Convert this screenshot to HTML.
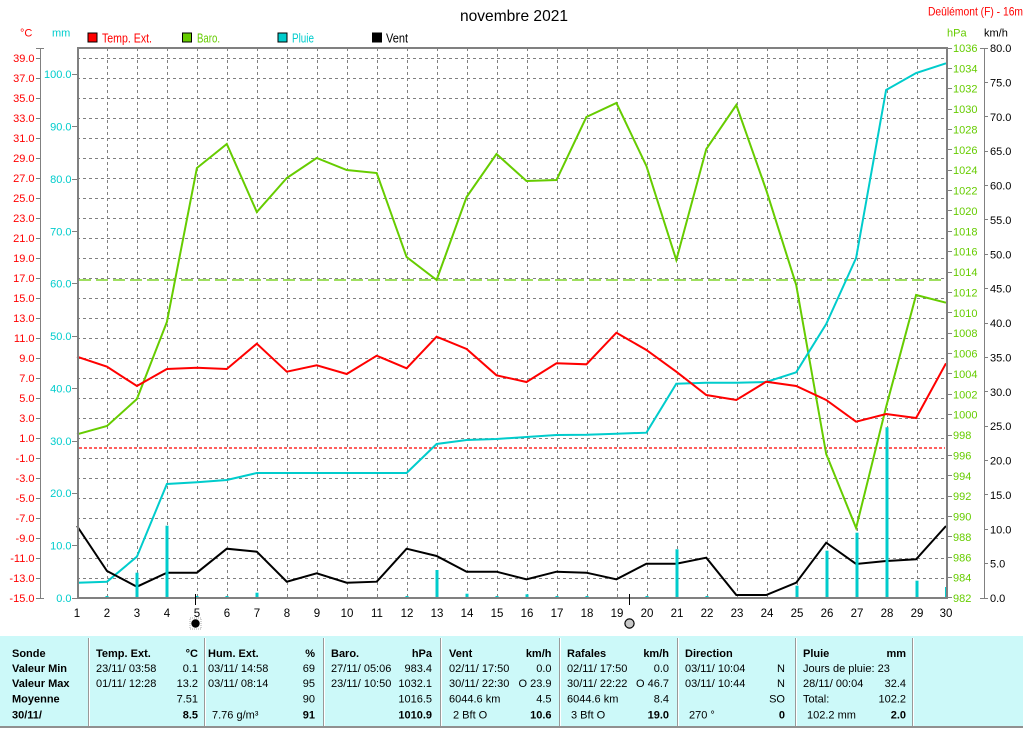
<!DOCTYPE html>
<html><head><meta charset="utf-8"><style>
html,body{margin:0;padding:0;background:#fff;}
svg{display:block;}
text{font-family:"Liberation Sans",Arial,sans-serif;}
</style></head><body>
<svg width="1026" height="729" viewBox="0 0 1026 729" xmlns="http://www.w3.org/2000/svg">
<rect width="1026" height="729" fill="#fff"/>
<!-- title -->
<text x="460" y="21" font-size="16" textLength="108" lengthAdjust="spacingAndGlyphs" fill="#000">novembre 2021</text>
<text x="928" y="15.5" font-size="12" textLength="95" lengthAdjust="spacingAndGlyphs" fill="#ff0000">Deûlémont (F) - 16m</text>
<!-- unit labels -->
<text x="20" y="36.5" font-size="11" fill="#ff0000">°C</text>
<text x="52" y="36.5" font-size="11" fill="#00cccc">mm</text>
<text x="947" y="36.5" font-size="11" fill="#66cc00">hPa</text>
<text x="984" y="36.5" font-size="11" fill="#000">km/h</text>
<!-- legend -->
<rect x="88" y="33" width="9" height="9" fill="#ff0000" stroke="#000" stroke-width="1"/>
<text x="102" y="42.5" font-size="12.5" textLength="50" lengthAdjust="spacingAndGlyphs" fill="#ff0000">Temp. Ext.</text>
<rect x="182.5" y="33" width="9" height="9" fill="#66cc00" stroke="#000" stroke-width="1"/>
<text x="197" y="42.5" font-size="12.5" textLength="23" lengthAdjust="spacingAndGlyphs" fill="#66cc00">Baro.</text>
<rect x="278" y="33" width="9" height="9" fill="#00cccc" stroke="#000" stroke-width="1"/>
<text x="292" y="42.5" font-size="12.5" textLength="22" lengthAdjust="spacingAndGlyphs" fill="#00cccc">Pluie</text>
<rect x="372.5" y="33" width="9" height="9" fill="#000" stroke="#000" stroke-width="1"/>
<text x="386" y="42.5" font-size="12.5" textLength="22" lengthAdjust="spacingAndGlyphs" fill="#000">Vent</text>

<!-- grid -->
<g stroke="#808080" stroke-width="1" stroke-dasharray="3 3" shape-rendering="crispEdges">
<path d="M77 58.5H946M77 78.5H946M77 98.5H946M77 118.5H946M77 138.5H946M77 158.5H946M77 178.5H946M77 198.5H946M77 218.5H946M77 238.5H946M77 258.5H946M77 278.5H946M77 298.5H946M77 318.5H946M77 338.5H946M77 358.5H946M77 378.5H946M77 398.5H946M77 418.5H946M77 438.5H946M77 458.5H946M77 478.5H946M77 498.5H946M77 518.5H946M77 538.5H946M77 558.5H946M77 578.5H946"/>
<path d="M107.5 48V598M137.5 48V598M167.5 48V598M197.5 48V598M227.5 48V598M257.5 48V598M287.5 48V598M317.5 48V598M347.5 48V598M377.5 48V598M407.5 48V598M437.5 48V598M467.5 48V598M497.5 48V598M527.5 48V598M557.5 48V598M587.5 48V598M617.5 48V598M647.5 48V598M677.5 48V598M707.5 48V598M737.5 48V598M767.5 48V598M797.5 48V598M827.5 48V598M857.5 48V598M887.5 48V598M917.5 48V598"/>
</g>
<!-- reference lines -->
<line x1="79" y1="448" x2="945" y2="448" stroke="#ff0000" stroke-width="1.2" stroke-dasharray="3 2"/>
<line x1="79" y1="280" x2="945" y2="280" stroke="#66cc00" stroke-width="1.2" stroke-dasharray="12 5"/>

<!-- series -->
<polyline fill="none" stroke="#66cc00" stroke-width="2" points="77,434.3 107,426 136.9,399 166.9,322 196.9,168 226.8,144 256.8,212 286.8,178 316.7,158 346.7,170 376.7,173 406.6,257 436.6,280 466.6,197 496.5,154 526.5,181 556.5,180 586.4,117 616.4,103 646.4,166 676.3,260 706.3,149 736.3,105 766.2,190 796.2,285 826.2,454 856.1,528 886.1,407 916.1,295 946,302.7"/>
<polyline fill="none" stroke="#00cccc" stroke-width="2" points="78,598 78,582.7 107,581.7 136.9,556.7 166.9,484 196.9,482.3 226.8,480 256.8,473 286.8,473 316.7,473 346.7,473 376.7,473 406.6,473 436.6,444 466.6,440 496.5,439 526.5,437 556.5,435 586.4,434.7 616.4,433.7 646.4,432.7 676.3,383.7 706.3,382.7 736.3,382.7 766.2,382 796.2,372.3 826.2,324 856.1,258 886.1,90 916.1,73 946,63.3"/>
<polyline fill="none" stroke="#ff0000" stroke-width="2" points="77,356.7 107,366.7 136.9,386 166.9,369 196.9,367.7 226.8,369 256.8,343.7 286.8,371.7 316.7,365.3 346.7,374 376.7,355.7 406.6,368.3 436.6,336.7 466.6,349 496.5,375.3 526.5,382 556.5,363.3 586.4,364.3 616.4,332.7 646.4,350 676.3,371.7 706.3,395 736.3,400 766.2,381.7 796.2,386 826.2,400 856.1,421.7 886.1,414 916.1,418 946,363.3"/>
<polyline fill="none" stroke="#000" stroke-width="2" points="77,526 107,571 136.9,586.7 166.9,572.7 196.9,572.7 226.8,548.7 256.8,551.7 286.8,581.7 316.7,573.3 346.7,582.7 376.7,581.7 406.6,548.7 436.6,556 466.6,571.7 496.5,571.7 526.5,579.3 556.5,571.7 586.4,572.7 616.4,579.3 646.4,563.7 676.3,563.7 706.3,557.7 736.3,595 766.2,595 796.2,582.7 826.2,542.7 856.1,564 886.1,561 916.1,559.3 946,526"/>
<!-- rain bars -->
<g fill="#00cccc">
<rect x="105.5" y="596" width="3" height="2"/>
<rect x="135.5" y="572.7" width="3" height="25.3"/>
<rect x="165.5" y="525.7" width="3" height="72.3"/>
<rect x="195.5" y="596" width="3" height="2"/>
<rect x="225.5" y="596" width="3" height="2"/>
<rect x="255.5" y="592.7" width="3" height="5.3"/>
<rect x="405.5" y="596" width="3" height="2"/>
<rect x="435.5" y="570" width="3" height="28"/>
<rect x="465.5" y="593.7" width="3" height="4.3"/>
<rect x="495.5" y="596" width="3" height="2"/>
<rect x="525.5" y="594.3" width="3" height="3.7"/>
<rect x="555.5" y="596" width="3" height="2"/>
<rect x="585.5" y="596" width="3" height="2"/>
<rect x="645.5" y="596" width="3" height="2"/>
<rect x="675.5" y="549.3" width="3" height="48.7"/>
<rect x="705.5" y="596" width="3" height="2"/>
<rect x="795.5" y="585.7" width="3" height="12.3"/>
<rect x="825.5" y="550.7" width="3" height="47.3"/>
<rect x="855.5" y="532.7" width="3" height="65.3"/>
<rect x="885.5" y="427.3" width="3" height="170.7"/>
<rect x="915.5" y="580.7" width="3" height="17.3"/>
<rect x="945" y="587" width="2" height="11"/>
</g>

<!-- plot border -->
<rect x="78" y="48" width="869" height="550" fill="none" stroke="#808080" stroke-width="2"/>

<!-- left temp axis -->
<g stroke="#808080" stroke-width="1" shape-rendering="crispEdges">
<path d="M40.5 48V598M36 48.5H44M36 598.5H44"/>
<path d="M36 58.5H40M36 78.5H40M36 98.5H40M36 118.5H40M36 138.5H40M36 158.5H40M36 178.5H40M36 198.5H40M36 218.5H40M36 238.5H40M36 258.5H40M36 278.5H40M36 298.5H40M36 318.5H40M36 338.5H40M36 358.5H40M36 378.5H40M36 398.5H40M36 418.5H40M36 438.5H40M36 458.5H40M36 478.5H40M36 498.5H40M36 518.5H40M36 538.5H40M36 558.5H40M36 578.5H40"/>
<!-- mm ticks -->
<path d="M72 598.5H77M72 545.5H77M72 493.5H77M72 441.5H77M72 388.5H77M72 336.5H77M72 283.5H77M72 231.5H77M72 179.5H77M72 126.5H77M72 74.5H77"/>
<!-- hPa ticks -->
<path d="M948 48.5H952M948 68.5H952M948 88.5H952M948 109.5H952M948 129.5H952M948 149.5H952M948 170.5H952M948 190.5H952M948 210.5H952M948 231.5H952M948 251.5H952M948 272.5H952M948 292.5H952M948 312.5H952M948 333.5H952M948 353.5H952M948 373.5H952M948 394.5H952M948 414.5H952M948 435.5H952M948 455.5H952M948 475.5H952M948 496.5H952M948 516.5H952M948 536.5H952M948 557.5H952M948 577.5H952M948 597.5H952"/>
<!-- km/h axis -->
<path d="M984.5 48V598M980 48.5H988M980 598.5H988"/>
<path d="M984 82.5H988M984 116.5H988M984 151.5H988M984 185.5H988M984 219.5H988M984 254.5H988M984 288.5H988M984 323.5H988M984 357.5H988M984 391.5H988M984 426.5H988M984 460.5H988M984 494.5H988M984 529.5H988M984 563.5H988"/>
</g>

<g font-size="11" fill="#ff0000" text-anchor="end">
<text x="34.5" y="62">39.0</text><text x="34.5" y="82">37.0</text><text x="34.5" y="102">35.0</text><text x="34.5" y="122">33.0</text><text x="34.5" y="142">31.0</text><text x="34.5" y="162">29.0</text><text x="34.5" y="182">27.0</text><text x="34.5" y="202">25.0</text><text x="34.5" y="222">23.0</text><text x="34.5" y="242">21.0</text><text x="34.5" y="262">19.0</text><text x="34.5" y="282">17.0</text><text x="34.5" y="302">15.0</text><text x="34.5" y="322">13.0</text><text x="34.5" y="342">11.0</text><text x="34.5" y="362">9.0</text><text x="34.5" y="382">7.0</text><text x="34.5" y="402">5.0</text><text x="34.5" y="422">3.0</text><text x="34.5" y="442">1.0</text><text x="34.5" y="462">-1.0</text><text x="34.5" y="482">-3.0</text><text x="34.5" y="502">-5.0</text><text x="34.5" y="522">-7.0</text><text x="34.5" y="542">-9.0</text><text x="34.5" y="562">-11.0</text><text x="34.5" y="582">-13.0</text><text x="34.5" y="602">-15.0</text>
</g>
<g font-size="11" fill="#00cccc" text-anchor="end">
<text x="71.5" y="602">0.0</text><text x="71.5" y="549.6">10.0</text><text x="71.5" y="497.2">20.0</text><text x="71.5" y="444.9">30.0</text><text x="71.5" y="392.5">40.0</text><text x="71.5" y="340.1">50.0</text><text x="71.5" y="287.7">60.0</text><text x="71.5" y="235.3">70.0</text><text x="71.5" y="183">80.0</text><text x="71.5" y="130.6">90.0</text><text x="71.5" y="78.2">100.0</text>
</g>
<g font-size="11" fill="#66cc00">
<text x="953" y="52">1036</text><text x="953" y="72.4">1034</text><text x="953" y="92.7">1032</text><text x="953" y="113.1">1030</text><text x="953" y="133.5">1028</text><text x="953" y="153.9">1026</text><text x="953" y="174.2">1024</text><text x="953" y="194.6">1022</text><text x="953" y="215">1020</text><text x="953" y="235.3">1018</text><text x="953" y="255.7">1016</text><text x="953" y="276.1">1014</text><text x="953" y="296.4">1012</text><text x="953" y="316.8">1010</text><text x="953" y="337.2">1008</text><text x="953" y="357.6">1006</text><text x="953" y="377.9">1004</text><text x="953" y="398.3">1002</text><text x="953" y="418.7">1000</text><text x="953" y="439">998</text><text x="953" y="459.4">996</text><text x="953" y="479.8">994</text><text x="953" y="500.1">992</text><text x="953" y="520.5">990</text><text x="953" y="540.9">988</text><text x="953" y="561.3">986</text><text x="953" y="581.6">984</text><text x="953" y="602">982</text>
</g>
<g font-size="11" fill="#000">
<text x="990" y="52">80.0</text><text x="990" y="86.4">75.0</text><text x="990" y="120.8">70.0</text><text x="990" y="155.1">65.0</text><text x="990" y="189.5">60.0</text><text x="990" y="223.9">55.0</text><text x="990" y="258.3">50.0</text><text x="990" y="292.6">45.0</text><text x="990" y="327">40.0</text><text x="990" y="361.4">35.0</text><text x="990" y="395.8">30.0</text><text x="990" y="430.1">25.0</text><text x="990" y="464.5">20.0</text><text x="990" y="498.9">15.0</text><text x="990" y="533.3">10.0</text><text x="990" y="567.6">5.0</text><text x="990" y="602">0.0</text>
</g>
<!-- x labels -->
<g font-size="11.5" fill="#000" text-anchor="middle">
<text x="77" y="617">1</text><text x="107" y="617">2</text><text x="137" y="617">3</text><text x="167" y="617">4</text><text x="197" y="617">5</text><text x="227" y="617">6</text><text x="257" y="617">7</text><text x="287" y="617">8</text><text x="317" y="617">9</text><text x="347" y="617">10</text><text x="377" y="617">11</text><text x="407" y="617">12</text><text x="437" y="617">13</text><text x="467" y="617">14</text><text x="497" y="617">15</text><text x="527" y="617">16</text><text x="557" y="617">17</text><text x="587" y="617">18</text><text x="617" y="617">19</text><text x="647" y="617">20</text><text x="677" y="617">21</text><text x="707" y="617">22</text><text x="737" y="617">23</text><text x="767" y="617">24</text><text x="797" y="617">25</text><text x="827" y="617">26</text><text x="857" y="617">27</text><text x="887" y="617">28</text><text x="917" y="617">29</text><text x="946" y="617">30</text>
</g>
<!-- moon phases -->
<line x1="195.5" y1="594" x2="195.5" y2="605" stroke="#000" stroke-width="1"/>
<rect x="190" y="618" width="11" height="11" fill="none" stroke="#aaa" stroke-width="1" stroke-dasharray="1 1"/>
<circle cx="195.5" cy="623.5" r="4.2" fill="#000"/>
<line x1="629.5" y1="594" x2="629.5" y2="605" stroke="#000" stroke-width="1"/>
<circle cx="629.5" cy="623.5" r="4.6" fill="#c8c8c8" stroke="#000" stroke-width="1.2"/>

<!-- table -->
<rect x="0" y="636" width="1023" height="91" fill="#ccf9f9"/>
<rect x="0" y="726" width="1023" height="2" fill="#909090"/>
<g stroke="#999" stroke-width="1" shape-rendering="crispEdges">
<path d="M88.5 638V726M204.5 638V726M323.5 638V726M440.5 638V726M559.5 638V726M677.5 638V726M795.5 638V726M912.5 638V726"/>
</g>
<g stroke="#fff" stroke-width="1" shape-rendering="crispEdges">
<path d="M89.5 638V726M205.5 638V726M324.5 638V726M441.5 638V726M560.5 638V726M678.5 638V726M796.5 638V726M913.5 638V726"/>
</g>
<g font-size="11" font-weight="bold" fill="#000">
<text x="12" y="657">Sonde</text>
<text x="12" y="672">Valeur Min</text>
<text x="12" y="687">Valeur Max</text>
<text x="12" y="702.5">Moyenne</text>
<text x="12" y="718.5">30/11/</text>
<text x="96" y="657">Temp. Ext.</text>
<text x="208" y="657">Hum. Ext.</text>
<text x="331" y="657">Baro.</text>
<text x="449" y="657">Vent</text>
<text x="567" y="657">Rafales</text>
<text x="685" y="657">Direction</text>
<text x="803" y="657">Pluie</text>
</g>
<g font-size="11" font-weight="bold" fill="#000" text-anchor="end">
<text x="198" y="657">°C</text>
<text x="315" y="657">%</text>
<text x="432" y="657">hPa</text>
<text x="551.5" y="657">km/h</text>
<text x="669" y="657">km/h</text>
<text x="906" y="657">mm</text>
<text x="198" y="718.5">8.5</text>
<text x="315" y="718.5">91</text>
<text x="432" y="718.5">1010.9</text>
<text x="551.5" y="718.5">10.6</text>
<text x="669" y="718.5">19.0</text>
<text x="785" y="718.5">0</text>
<text x="906" y="718.5">2.0</text>
</g>
<g font-size="11" fill="#000">
<text x="96" y="672">23/11/  03:58</text>
<text x="96" y="687">01/11/  12:28</text>
<text x="208" y="672">03/11/  14:58</text>
<text x="208" y="687">03/11/  08:14</text>
<text x="212" y="718.5">7.76 g/m³</text>
<text x="331" y="672">27/11/  05:06</text>
<text x="331" y="687">23/11/  10:50</text>
<text x="449" y="672">02/11/  17:50</text>
<text x="449" y="687">30/11/  22:30</text>
<text x="449" y="702.5">6044.6 km</text>
<text x="453" y="718.5">2 Bft O</text>
<text x="567" y="672">02/11/  17:50</text>
<text x="567" y="687">30/11/  22:22</text>
<text x="567" y="702.5">6044.6 km</text>
<text x="571" y="718.5">3 Bft O</text>
<text x="685" y="672">03/11/  10:04</text>
<text x="685" y="687">03/11/  10:44</text>
<text x="689" y="718.5">270 °</text>
<text x="803" y="672">Jours de pluie: 23</text>
<text x="803" y="687">28/11/  00:04</text>
<text x="803" y="702.5">Total:</text>
<text x="807" y="718.5">102.2 mm</text>
</g>
<g font-size="11" fill="#000" text-anchor="end">
<text x="198" y="672">0.1</text>
<text x="198" y="687">13.2</text>
<text x="198" y="702.5">7.51</text>
<text x="315" y="672">69</text>
<text x="315" y="687">95</text>
<text x="315" y="702.5">90</text>
<text x="432" y="672">983.4</text>
<text x="432" y="687">1032.1</text>
<text x="432" y="702.5">1016.5</text>
<text x="551.5" y="672">0.0</text>
<text x="551.5" y="687">O 23.9</text>
<text x="551.5" y="702.5">4.5</text>
<text x="669" y="672">0.0</text>
<text x="669" y="687">O 46.7</text>
<text x="669" y="702.5">8.4</text>
<text x="785" y="672">N</text>
<text x="785" y="687">N</text>
<text x="785" y="702.5">SO</text>
<text x="906" y="687">32.4</text>
<text x="906" y="702.5">102.2</text>
</g>
</svg>
</body></html>
